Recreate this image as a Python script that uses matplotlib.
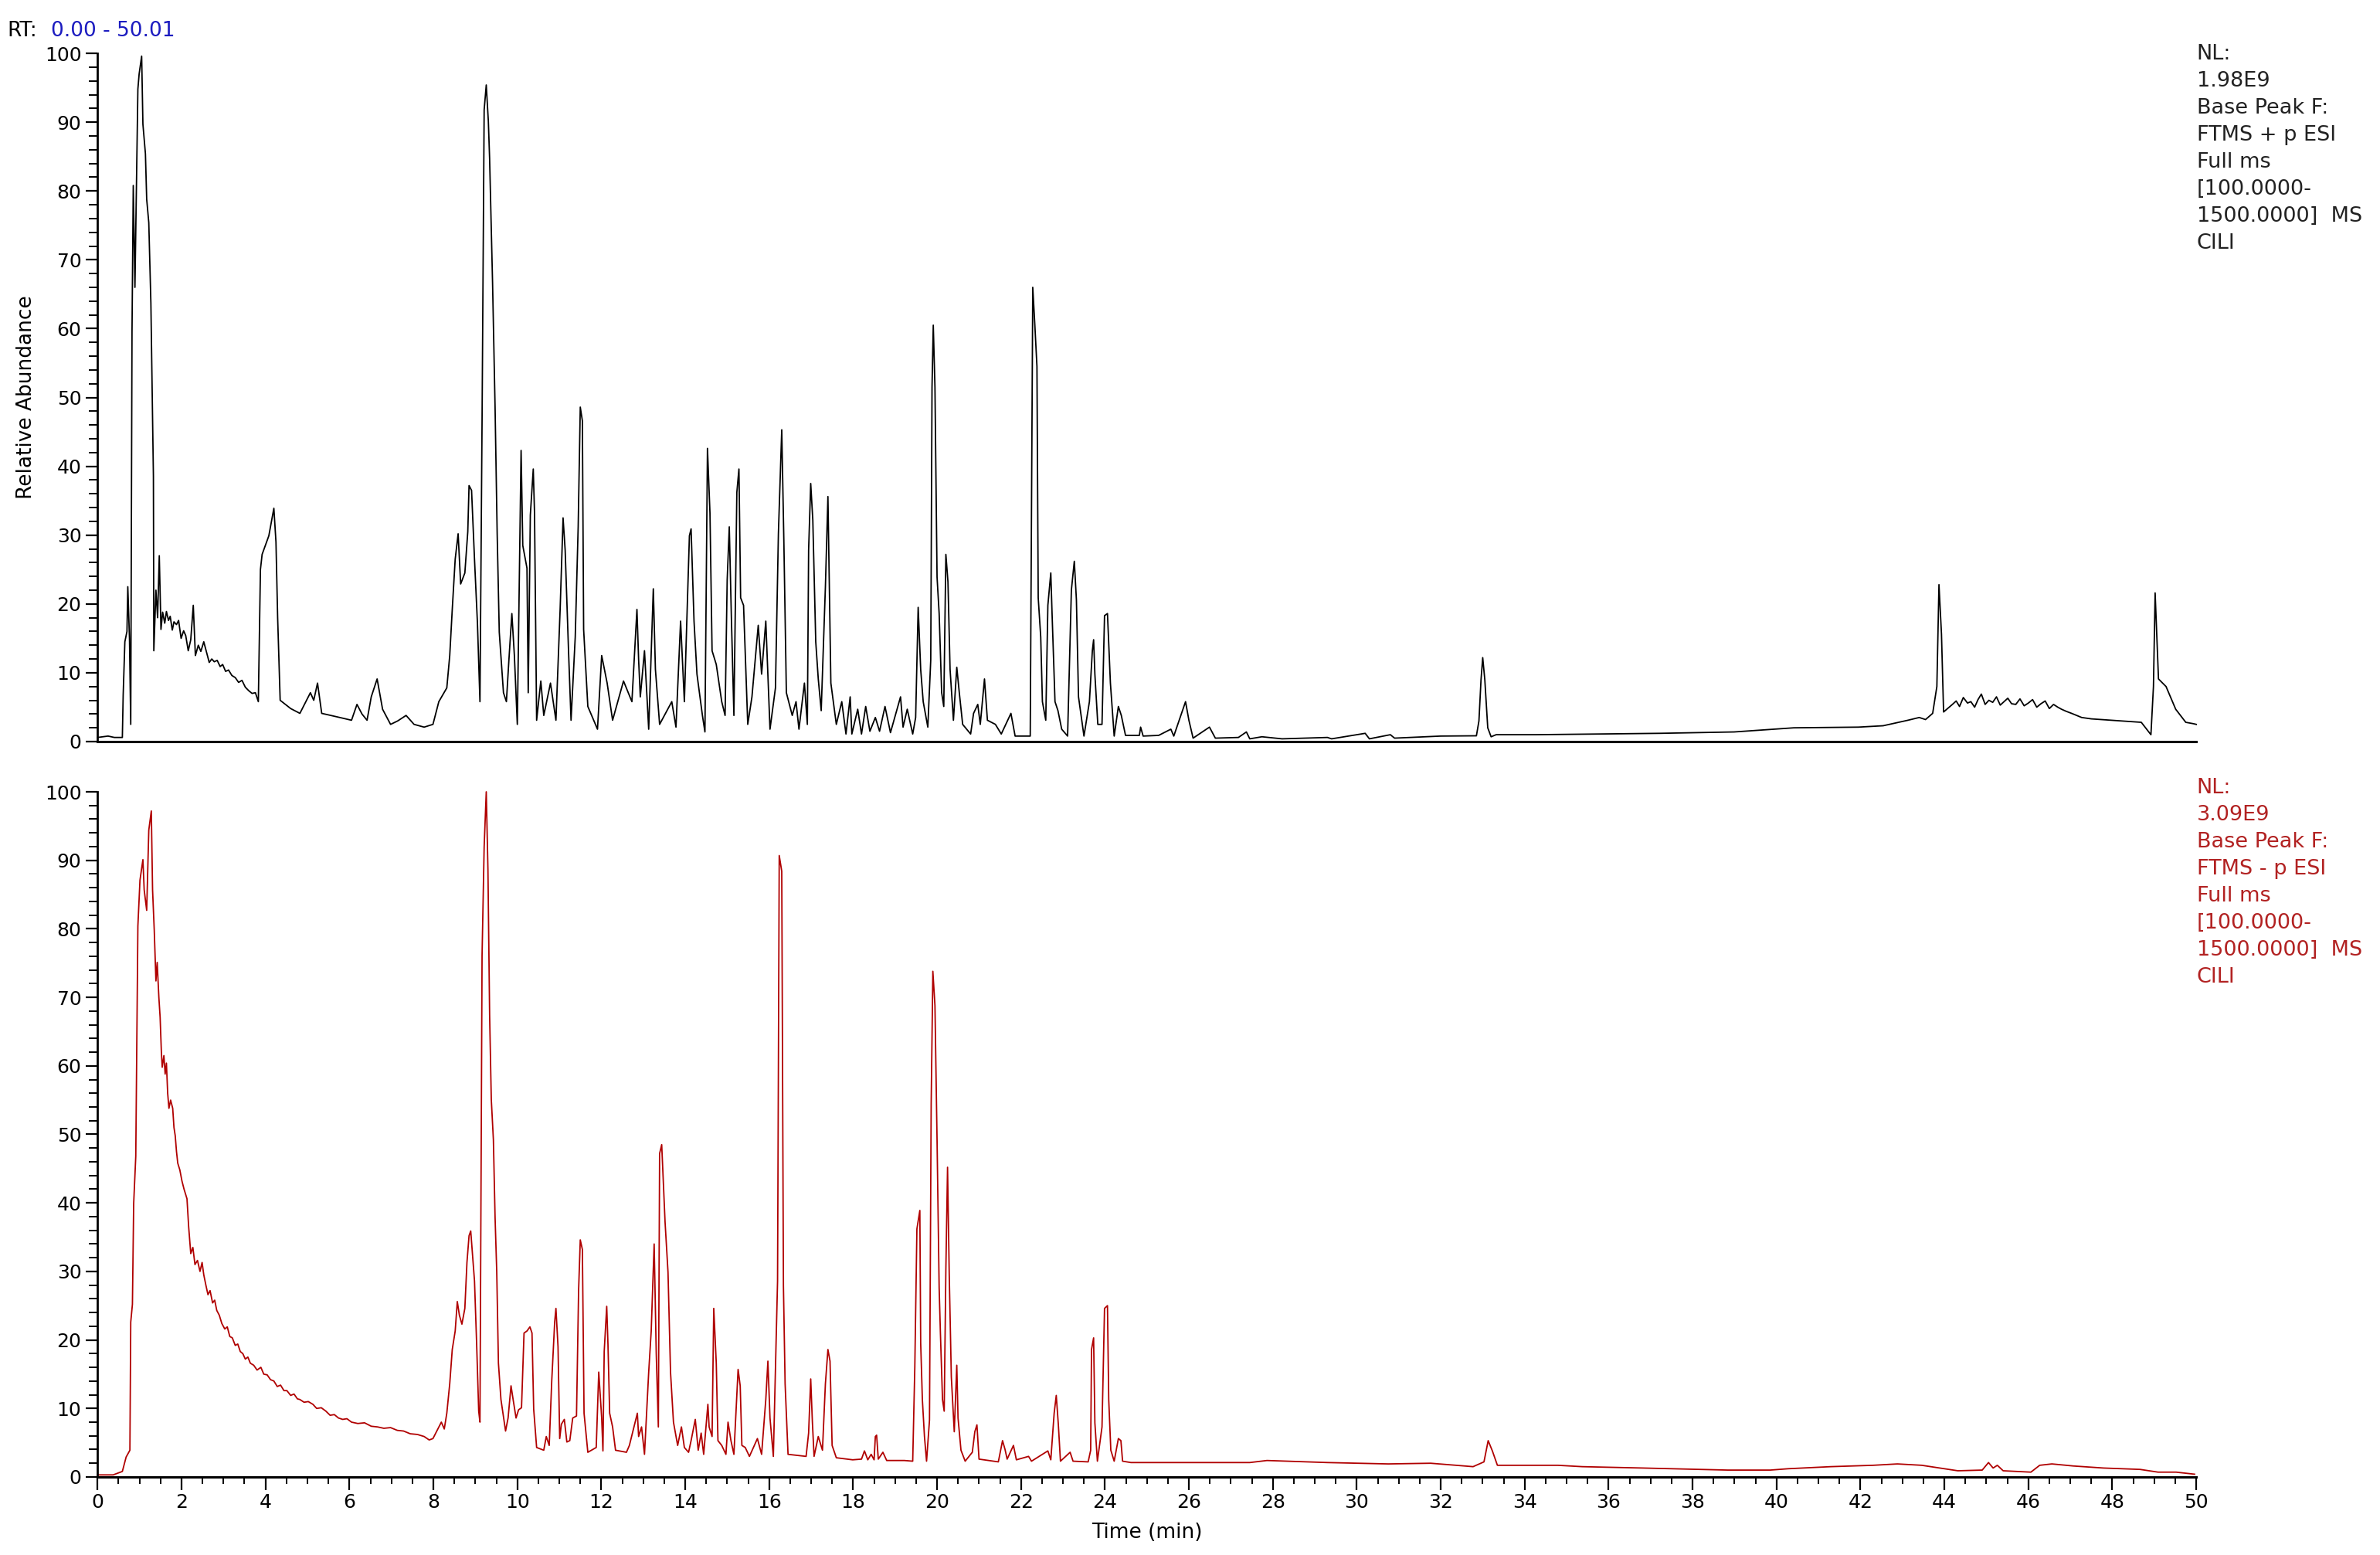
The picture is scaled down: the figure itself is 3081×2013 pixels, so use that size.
import matplotlib
matplotlib.use("Agg")
import matplotlib.pyplot as plt
from matplotlib.ticker import MultipleLocator

# positive mode base peak chromatogram (time in min, relative abundance)
pos_time = [0.00, 0.25, 0.40, 0.59, 0.61, 0.65, 0.70, 0.72, 0.76, 0.79, 0.82, 0.85, 0.89, 0.96, 0.99,
            1.05, 1.08, 1.14, 1.17, 1.22, 1.27, 1.33, 1.34, 1.39, 1.43, 1.47, 1.51,
            1.55, 1.60, 1.64, 1.69, 1.73, 1.78, 1.82, 1.88, 1.93, 1.99, 2.05, 2.10, 2.16, 2.22,
            2.28, 2.33, 2.40, 2.46, 2.53, 2.60, 2.66, 2.72, 2.78, 2.85, 2.92, 2.98, 3.05, 3.12,
            3.20, 3.28, 3.36, 3.44, 3.52, 3.60, 3.68, 3.76, 3.83, 3.88, 3.92, 4.08,
            4.20, 4.25, 4.29, 4.35, 4.60, 4.82, 5.07, 5.15, 5.24, 5.34, 5.70, 6.05, 6.18, 6.30, 6.42,
            6.52, 6.66, 6.79, 6.98, 7.15, 7.35, 7.54, 7.78, 7.99, 8.13, 8.32, 8.39, 8.45, 8.52, 8.59, 8.65,
            8.75, 8.82, 8.85, 8.91, 8.98, 9.05, 9.11, 9.16, 9.21, 9.26, 9.31, 9.34, 9.41, 9.47, 9.52,
            9.57, 9.67, 9.74, 9.80, 9.87, 9.93, 10.00, 10.09, 10.13, 10.23, 10.26, 10.31, 10.38, 10.41,
            10.46, 10.56, 10.63, 10.79, 10.92, 11.02, 11.09, 11.14, 11.22, 11.28, 11.38, 11.45, 11.50,
            11.55, 11.58, 11.68, 11.91, 12.01, 12.14, 12.27, 12.53, 12.73, 12.85, 12.89, 12.93, 13.03,
            13.13, 13.24, 13.29, 13.39, 13.68, 13.78, 13.89, 13.98, 14.10, 14.14, 14.21, 14.28, 14.41,
            14.47, 14.53, 14.59, 14.64, 14.74, 14.87, 14.95, 15.00, 15.05, 15.10, 15.16, 15.23, 15.28,
            15.32, 15.39, 15.49, 15.59, 15.74, 15.82, 15.92, 16.02, 16.15, 16.22, 16.30, 16.35, 16.41,
            16.55, 16.64, 16.71, 16.84, 16.91, 16.94, 16.99, 17.04, 17.11, 17.17, 17.24, 17.34, 17.40,
            17.47, 17.60, 17.73, 17.83, 17.93, 17.97, 18.11, 18.20, 18.30, 18.40, 18.53, 18.63, 18.76,
            18.89, 19.13, 19.19, 19.29, 19.42, 19.49, 19.55, 19.61, 19.67, 19.78, 19.85, 19.88, 19.91,
            19.95, 20.00, 20.05, 20.11, 20.16, 20.21, 20.26, 20.31, 20.39, 20.47, 20.53, 20.61, 20.80,
            20.87, 20.97, 21.03, 21.13, 21.20, 21.39, 21.53, 21.76, 21.86, 22.22, 22.28, 22.33, 22.38,
            22.41, 22.47, 22.51, 22.59, 22.64, 22.71, 22.74, 22.81, 22.88, 22.97, 23.11, 23.20, 23.27,
            23.32, 23.37, 23.50, 23.63, 23.70, 23.73, 23.76, 23.83, 23.93, 23.99, 24.06, 24.13, 24.22,
            24.32, 24.39, 24.49, 24.82, 24.85, 24.91, 25.28, 25.57, 25.64, 25.92, 26.00, 26.10, 26.49,
            26.63, 27.18, 27.37, 27.45, 27.74, 28.22, 29.30, 29.40, 30.20, 30.30, 30.80, 30.90, 32.00,
            32.85, 32.91, 32.96, 33.00, 33.05, 33.12, 33.20, 33.32, 34.26, 37.22, 38.99, 40.41, 41.95,
            42.54, 43.13, 43.40, 43.55, 43.72, 43.82, 43.87, 43.93, 43.98, 44.19, 44.28, 44.36, 44.45,
            44.55, 44.63, 44.72, 44.80, 44.88, 44.97, 45.06, 45.15, 45.24, 45.33, 45.42, 45.51, 45.60,
            45.70, 45.80, 45.90, 46.00, 46.10, 46.20, 46.30, 46.40, 46.50, 46.60, 46.70, 46.79, 46.90,
            47.03, 47.15, 47.27, 47.50, 47.98, 48.69, 48.92,
            48.98, 49.02, 49.10, 49.28, 49.51, 49.75, 49.93, 50.00]
pos_abund = [0.6, 0.8, 0.6, 0.6, 6.8, 14.5, 16.0, 22.5, 15.0, 2.5, 59.4, 80.8, 66.0, 94.8, 97.0,
             99.6, 89.7, 85.4, 78.8, 75.4, 63.7, 38.6, 13.2, 22.0, 18.0, 27.0, 16.3,
             18.8, 17.2, 18.9, 17.6, 18.2, 16.2, 17.4, 17.0, 17.6, 15.0, 16.1, 15.4, 13.2, 14.8,
             19.8, 12.5, 14.0, 13.1, 14.5, 12.9, 11.5, 12.0, 11.6, 11.8, 10.9, 11.2, 10.2, 10.4,
             9.6, 9.3, 8.6, 8.9, 7.9, 7.4, 7.0, 7.1, 5.8, 25.0, 27.2, 29.9,
             33.9, 29.0, 18.0, 6.0, 4.8, 4.1, 7.1, 6.0, 8.5, 4.1, 3.6, 3.1, 5.4, 4.0, 3.1,
             6.5, 9.1, 4.7, 2.5, 3.0, 3.8, 2.5, 2.1, 2.5, 5.8, 7.8, 12.5, 19.2, 26.5, 30.2, 22.9,
             24.5, 30.5, 37.2, 36.5, 26.5, 17.2, 5.8, 46.6, 91.8, 95.4, 90.1, 84.7, 66.7, 48.6, 30.2,
             15.9, 7.1, 5.8, 11.9, 18.6, 12.5, 2.5, 42.3, 28.5, 25.2, 7.1, 32.9, 39.6, 33.2,
             3.1, 8.8, 3.8, 8.5, 3.1, 19.2, 32.5, 27.8, 13.2, 3.1, 15.2, 31.2, 48.6,
             46.6, 16.3, 5.1, 1.8, 12.5, 8.5, 3.1, 8.8, 5.8, 19.2, 11.9, 6.5, 13.2,
             1.8, 22.2, 10.5, 2.5, 5.8, 2.1, 17.5, 5.8, 29.9, 30.9, 17.5, 9.8, 3.8,
             1.4, 42.6, 33.2, 13.2, 11.2, 5.8, 3.8, 23.5, 31.2, 18.0, 3.8, 36.2, 39.6,
             20.9, 19.8, 2.5, 6.5, 16.9, 9.8, 17.5, 1.8, 7.8, 30.2, 45.3, 29.2, 7.1,
             3.8, 5.8, 1.8, 8.5, 2.5, 27.8, 37.5, 32.2, 14.5, 9.1, 4.5, 22.5, 35.6,
             8.5, 2.5, 5.8, 1.1, 6.5, 1.1, 4.7, 1.1, 5.1, 1.5, 3.5, 1.5, 5.1,
             1.3, 6.5, 2.1, 4.7, 1.1, 3.5, 19.5, 10.5, 5.8, 2.1, 11.9, 51.5, 60.5,
             51.5, 23.9, 18.6, 7.1, 5.1, 27.2, 23.2, 10.5, 3.1, 10.8, 7.1, 2.5, 1.1,
             4.1, 5.4, 2.5, 9.1, 3.1, 2.5, 1.1, 4.1, 0.8, 0.8, 66.0, 60.5, 54.5,
             20.9, 15.2, 5.8, 3.1, 19.8, 24.5, 18.6, 5.8, 4.5, 1.8, 0.8, 22.0, 26.2,
             20.6, 6.5, 0.8, 5.8, 13.2, 14.8, 9.8, 2.5, 2.5, 18.3, 18.6, 8.5, 0.8,
             5.1, 3.8, 0.9, 0.9, 2.1, 0.8, 0.9, 1.8, 0.8, 5.8, 3.1, 0.5, 2.1,
             0.5, 0.6, 1.4, 0.4, 0.7, 0.4, 0.6, 0.4, 1.2, 0.4, 1.0, 0.5, 0.8,
             0.84, 3.0, 9.0, 12.2, 9.0, 2.0, 0.7, 1.0, 1.0, 1.2, 1.4, 2.0, 2.1,
             2.3, 3.1, 3.5, 3.2, 4.1, 8.0, 22.8, 15.6, 4.3, 5.4, 5.9, 5.1, 6.4,
             5.6, 5.8, 5.0, 6.1, 6.9, 5.4, 6.0, 5.7, 6.5, 5.3, 5.8, 6.3, 5.5,
             5.4, 6.2, 5.2, 5.6, 6.1, 5.0, 5.5, 5.9, 4.8, 5.4, 5.0, 4.7, 4.4,
             4.1, 3.8, 3.5, 3.3, 3.1, 2.8, 1.0,
             8.0, 21.6, 9.1, 8.0, 4.7, 2.8, 2.6, 2.5]

# negative mode base peak chromatogram
neg_time = [0.00, 0.37, 0.59, 0.68, 0.77, 0.79, 0.83, 0.86, 0.91, 0.96, 1.01, 1.08, 1.11, 1.17, 1.22,
            1.28, 1.31, 1.35, 1.39, 1.42, 1.46, 1.49, 1.52, 1.54, 1.58, 1.61, 1.64, 1.67, 1.70, 1.74,
            1.79, 1.82, 1.85, 1.88, 1.91, 1.96, 2.01, 2.06, 2.10, 2.13, 2.17, 2.22, 2.27, 2.32, 2.38,
            2.44, 2.49, 2.53, 2.58, 2.63, 2.68, 2.74, 2.79, 2.84, 2.90, 2.96, 3.03, 3.09, 3.15, 3.21,
            3.28, 3.34, 3.40, 3.46, 3.52, 3.58, 3.64, 3.72, 3.80, 3.89, 3.96, 4.04, 4.12, 4.20, 4.28,
            4.36, 4.44, 4.51, 4.60, 4.68, 4.76, 4.82, 4.92, 5.02, 5.13, 5.22, 5.33, 5.44, 5.54, 5.64,
            5.74, 5.84, 5.94, 6.05, 6.20, 6.36, 6.52, 6.67, 6.82, 6.98, 7.14, 7.29, 7.45, 7.62, 7.78,
            7.90, 7.99, 8.19, 8.26, 8.32, 8.39, 8.45, 8.52, 8.57, 8.62, 8.68, 8.75,
            8.80, 8.85, 8.89, 8.93, 8.98, 9.03, 9.08, 9.11, 9.16, 9.21, 9.26, 9.30, 9.34, 9.38, 9.43,
            9.47, 9.51, 9.55, 9.61, 9.72, 9.78, 9.85, 9.90, 9.97, 10.03, 10.10, 10.16, 10.23, 10.30,
            10.35, 10.39, 10.46, 10.63, 10.69, 10.76, 10.82, 10.89, 10.92, 10.97, 11.01, 11.05, 11.12,
            11.18, 11.25, 11.32, 11.41, 11.46, 11.50, 11.55, 11.59, 11.68, 11.88, 11.94, 12.01, 12.04,
            12.07, 12.13, 12.16, 12.20, 12.27, 12.34, 12.60, 12.67, 12.86, 12.89, 12.96, 13.03, 13.13,
            13.19, 13.26, 13.31, 13.36, 13.39, 13.44, 13.52, 13.59, 13.65, 13.72, 13.82, 13.91, 13.98,
            14.08, 14.14, 14.24, 14.31, 14.38, 14.44, 14.54, 14.57, 14.64, 14.68, 14.74, 14.78, 14.87,
            14.97, 15.02, 15.09, 15.16, 15.26, 15.31, 15.35, 15.43, 15.53, 15.72, 15.82, 15.92, 15.97,
            16.02, 16.10, 16.20, 16.24, 16.30, 16.34, 16.38, 16.45, 16.88, 16.94, 16.99, 17.03, 17.07,
            17.17, 17.27, 17.34, 17.40, 17.45, 17.50, 17.60, 17.99, 18.20, 18.27, 18.35, 18.43, 18.50,
            18.53, 18.56, 18.60, 18.71, 18.80, 19.22, 19.42, 19.47, 19.52, 19.59, 19.61, 19.65, 19.70,
            19.75, 19.82, 19.86, 19.90, 19.95, 20.00, 20.05, 20.08, 20.13, 20.17, 20.21, 20.25, 20.29,
            20.34, 20.41, 20.47, 20.50, 20.57, 20.67, 20.84, 20.90, 20.95, 21.00, 21.46, 21.56, 21.62,
            21.67, 21.82, 21.89, 22.18, 22.25, 22.64, 22.71, 22.79, 22.84, 22.89, 22.94, 23.17, 23.24,
            23.60, 23.66, 23.68, 23.73, 23.76, 23.82, 23.93, 23.99, 24.06, 24.09, 24.14, 24.22, 24.32,
            24.38, 24.42, 24.62, 25.47, 26.46, 27.45, 27.86, 29.30, 30.75, 31.76, 32.77, 33.03, 33.13,
            33.23, 33.35, 34.79, 35.37, 36.82, 38.84, 39.85, 40.28, 41.29, 42.30, 42.88, 43.46, 44.32,
            44.90, 45.05, 45.16, 45.26, 45.40, 46.06, 46.27, 46.56, 47.07, 47.79, 48.66, 49.09, 49.52,
            49.96]
neg_abund = [0.3, 0.3, 0.8, 2.9, 3.9, 22.6, 25.2, 39.9, 46.8, 80.4, 87.1, 90.1, 85.7, 82.7, 94.4,
             97.2, 85.7, 79.8, 72.4, 75.1, 70.0, 67.1, 62.0, 59.8, 61.5, 58.8, 60.4, 56.0, 53.8, 55.0,
             53.8, 51.0, 49.8, 47.5, 45.8, 44.8, 43.2, 42.0, 41.2, 40.6, 36.5, 32.6, 33.5, 31.0, 31.6,
             30.0, 31.3, 29.5, 28.0, 26.6, 27.2, 25.4, 25.8, 24.3, 23.6, 22.4, 21.6, 21.9, 20.5, 20.3,
             19.2, 19.4, 18.3, 18.0, 17.2, 17.5, 16.6, 16.3, 15.6, 16.0, 15.0, 14.9, 14.2, 14.0, 13.2,
             13.4, 12.6, 12.6, 11.9, 12.1, 11.4, 11.3, 10.9, 11.0, 10.6, 10.0, 10.1, 9.6, 9.0, 9.1,
             8.6, 8.4, 8.5, 8.0, 7.8, 7.9, 7.4, 7.3, 7.1, 7.2, 6.8, 6.7, 6.3, 6.2, 5.9,
             5.4, 5.6, 8.0, 7.0, 9.3, 13.6, 18.6, 21.3, 25.6, 23.6, 22.3, 24.6,
             31.3, 35.2, 35.9, 32.6, 28.6, 19.6, 9.6, 8.0, 76.1, 92.0, 100.0, 88.7, 67.5, 55.1, 49.2,
             37.9, 29.9, 16.6, 11.3, 6.7, 8.6, 13.3, 11.3, 8.6, 9.8, 10.1, 21.0, 21.3, 21.9,
             21.0, 9.9, 4.3, 3.9, 5.9, 4.6, 14.0, 22.6, 24.6, 19.0, 5.6, 7.7, 8.4,
             5.1, 5.3, 8.6, 8.9, 27.2, 34.6, 33.2, 9.3, 3.6, 4.3, 15.3, 8.6, 3.8,
             18.3, 24.9, 19.3, 9.3, 7.3, 3.9, 3.6, 4.6, 9.3, 5.9, 7.3, 3.3, 15.3,
             21.3, 34.0, 18.0, 7.3, 47.2, 48.5, 37.2, 29.9, 15.3, 8.0, 4.6, 7.3, 4.3,
             3.6, 5.3, 8.4, 3.9, 6.4, 3.3, 10.6, 7.3, 5.9, 24.6, 16.6, 5.3, 4.6,
             3.3, 8.0, 5.3, 3.3, 15.7, 13.3, 4.6, 4.3, 3.0, 5.6, 3.3, 11.3, 16.9,
             8.6, 3.0, 28.6, 90.7, 88.4, 27.9, 13.6, 3.3, 3.0, 6.4, 14.3, 8.0, 3.0,
             5.9, 3.9, 13.6, 18.6, 16.9, 4.6, 2.8, 2.5, 2.6, 3.8, 2.5, 3.3, 2.5,
             5.9, 6.1, 2.6, 3.6, 2.4, 2.4, 2.3, 16.0, 36.2, 38.9, 19.6, 11.3, 5.9,
             2.3, 8.3, 54.5, 73.8, 68.8, 49.2, 27.6, 21.0, 11.3, 9.6, 30.3, 45.2, 29.6,
             14.6, 6.6, 16.3, 8.6, 3.9, 2.3, 3.6, 6.6, 7.6, 2.6, 2.2, 5.3, 4.0,
             2.6, 4.6, 2.5, 3.0, 2.3, 3.8, 2.5, 9.3, 11.9, 7.6, 2.3, 3.6, 2.3,
             2.2, 3.9, 18.6, 20.3, 7.9, 2.3, 7.3, 24.6, 25.0, 11.3, 3.9, 2.3, 5.6,
             5.3, 2.3, 2.1, 2.1, 2.1, 2.1, 2.4, 2.1, 1.9, 2.0, 1.5, 2.2, 5.3,
             3.8, 1.7, 1.7, 1.5, 1.3, 1.0, 1.0, 1.2, 1.5, 1.7, 1.9, 1.7, 0.9,
             1.0, 2.1, 1.3, 1.7, 0.9, 0.7, 1.7, 1.9, 1.6, 1.3, 1.1, 0.7, 0.7,
             0.4]

x_ticks = list(range(0, 52, 2))
y_ticks = list(range(0, 110, 10))

pos_info = "NL:\n1.98E9\nBase Peak F:\nFTMS + p ESI\nFull ms\n[100.0000-\n1500.0000]  MS\nCILI"
neg_info = "NL:\n3.09E9\nBase Peak F:\nFTMS - p ESI\nFull ms\n[100.0000-\n1500.0000]  MS\nCILI"

plt.rcParams['font.family'] = ['DejaVu Sans']
FS = 18
RED = '#b00000'

fig = plt.figure(figsize=(30.81, 20.13), dpi=100)
ax1 = fig.add_axes([0.0410, 0.5231, 0.8818, 0.4426])
ax2 = fig.add_axes([0.0410, 0.0502, 0.8818, 0.4406])


def style_axis(ax, show_x):
    for side in ['top', 'right']:
        ax.spines[side].set_visible(False)
    ax.spines['left'].set_linewidth(2)
    ax.spines['bottom'].set_linewidth(2.2)
    ax.set_xlim(0, 50)
    ax.set_ylim(0, 100)
    ax.set_yticks(y_ticks)
    ax.yaxis.set_minor_locator(MultipleLocator(2))
    ax.tick_params(axis='y', which='major', length=11, width=1.6, labelsize=FS, pad=4)
    ax.tick_params(axis='y', which='minor', length=8, width=1.4)
    if show_x:
        ax.set_xticks(x_ticks)
        ax.xaxis.set_minor_locator(MultipleLocator(0.5))
        ax.tick_params(axis='x', which='major', length=12, width=1.6, labelsize=FS, pad=3)
        ax.tick_params(axis='x', which='minor', length=6.5, width=1.4)
    else:
        ax.set_xticks([])
        ax.tick_params(axis='x', which='both', length=0)


ax1.plot(pos_time, pos_abund, color='black', lw=1.3, clip_on=False)
ax2.plot(neg_time, neg_abund, color=RED, lw=1.3, clip_on=False)

style_axis(ax1, False)
style_axis(ax2, True)

ax1.set_ylabel("Relative Abundance", fontsize=19, labelpad=8)
ax2.set_xlabel("Time (min)", fontsize=19, labelpad=10)

fig.text(0.9230, 0.9717, pos_info, fontsize=19.5, va='top', ha='left', linespacing=1.45, color='#222222')
fig.text(0.9230, 0.4997, neg_info, fontsize=19.5, va='top', ha='left', linespacing=1.45, color='#b22222')

fig.text(0.0032, 0.9767, "RT:", fontsize=19, va='baseline', ha='left', color='black')
fig.text(0.0214, 0.9767, "0.00 - 50.01", fontsize=19, va='baseline', ha='left', color='#1c1cc0')

fig.savefig("out.png", dpi=100, facecolor='white')
